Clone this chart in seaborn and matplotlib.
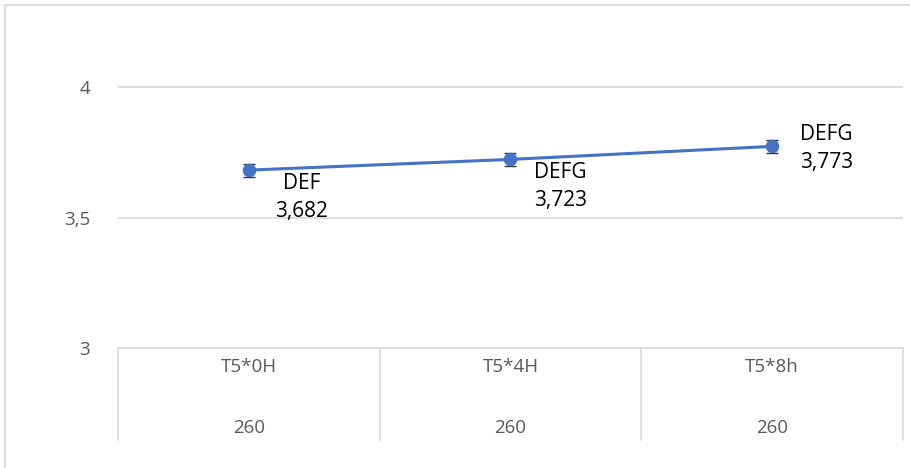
import matplotlib
matplotlib.use("Agg")
import matplotlib.pyplot as plt
import matplotlib.transforms as mtransforms
import seaborn as sns
import pandas as pd

# data
groups = ["T5*0H", "T5*4H", "T5*8h"]
dose = ["260", "260", "260"]
means = [3.682, 3.723, 3.773]
errors = [0.025, 0.025, 0.025]
letters = ["DEF", "DEFG", "DEFG"]
value_text = ["3,682", "3,723", "3,773"]

df = pd.DataFrame({"pos": range(len(groups)), "mean": means, "err": errors})

sns.set_style("white")
plt.rcParams["font.family"] = ["Open Sans", "DejaVu Sans"]

fig = plt.figure(figsize=(9.1, 4.68), dpi=100)
ax = fig.add_axes([118 / 910, 1 - 348 / 468, (903 - 118) / 910, 313 / 468])

blue = "#4472C4"
sns.lineplot(data=df, x="pos", y="mean", ax=ax, color=blue, linewidth=2.2,
             marker="o", markersize=9, markeredgecolor=blue, zorder=3)
ax.errorbar(df["pos"], df["mean"], yerr=df["err"], fmt="none",
            ecolor="#333333", elinewidth=1, capsize=4, zorder=2)

ax.set_xlim(-0.5, len(groups) - 0.5)
ax.set_ylim(3, 4.2)
ax.set_yticks([3, 3.5, 4])
ax.set_yticklabels(["3", "3,5", "4"])
ax.tick_params(axis="y", length=0, pad=20, labelsize=13.5, labelcolor="#595959")
ax.set_xticks([])
ax.set_xlabel("")
ax.set_ylabel("")
for y in [3.5, 4]:
    ax.axhline(y, color="#d9d9d9", linewidth=1.2, zorder=0)
for s in ["top", "right", "left"]:
    ax.spines[s].set_visible(False)
ax.spines["bottom"].set_color("#d9d9d9")
ax.spines["bottom"].set_linewidth(1.2)

# data labels
offsets = [(53, -27), (50, -27), (54, -2)]
for i, (m, lt, vt) in enumerate(zip(means, letters, value_text)):
    ax.annotate(lt + "\n" + vt, xy=(i, m), xytext=offsets[i],
                textcoords="offset pixels", ha="center", va="center",
                fontsize=15, color="black", linespacing=1.45,
                family=["Open Sans", "DejaVu Sans"])

# multi-level category axis
trans = mtransforms.blended_transform_factory(ax.transData, ax.transAxes)
h = 313
for b in [i - 0.5 for i in range(len(groups) + 1)]:
    ax.plot([b, b], [0, -92 / h], transform=trans, color="#d9d9d9",
            linewidth=1.2, clip_on=False)
for i, (g, d) in enumerate(zip(groups, dose)):
    ax.text(i, -19 / h, g, transform=trans, ha="center", va="center",
            fontsize=13.5, color="#595959")
    ax.text(i, -80 / h, d, transform=trans, ha="center", va="center",
            fontsize=13.5, color="#595959")

# chart border
fig.add_artist(plt.Line2D([5 / 910, 5 / 910], [0, 1 - 5 / 468],
                          transform=fig.transFigure, color="#d9d9d9", linewidth=1.2))
fig.add_artist(plt.Line2D([5 / 910, 1], [1 - 5 / 468, 1 - 5 / 468],
                          transform=fig.transFigure, color="#d9d9d9", linewidth=1.2))

fig.savefig("out.png", dpi=100)
